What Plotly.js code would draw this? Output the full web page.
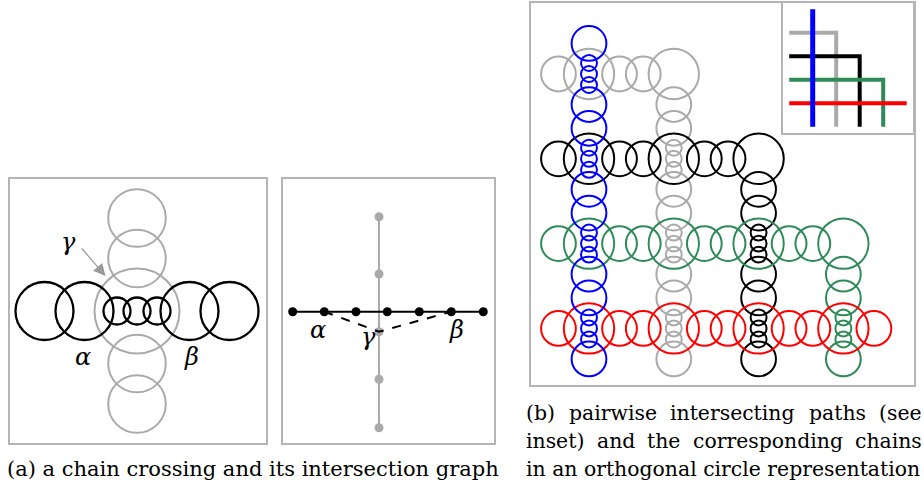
<!DOCTYPE html>
<html><head><meta charset="utf-8">
<script src="https://cdn.plot.ly/plotly-3.0.1.min.js"></script>
<style>html,body{margin:0;padding:0;background:#fff}</style>
</head><body><div id="chart" style="width:924px;height:489px"></div>
<script>
// ---------- Panel (a), left: chain crossing (units ~ px from crossing centre, y up)
const chainBlackX = [-92.5, -52.5, -20, 0, 20, 52.5, 92.5];
const chainBlackR = [29, 29, 13.5, 13.5, 13.5, 29, 29];
const chainGrayY  = [93, 52.5, 0, -52.5, -93];
const chainGrayR  = [28.8, 28.8, 42.5, 28.8, 28.8];

// ---------- Panel (a), right: intersection graph
const graphBlackX = [-86.3, -54.7, -23, 8.3, 40.3, 72.3, 104.3];
const graphBlackY = [0, 0, 0, 0, 0, 0, 0];
const graphGrayX  = [0, 0, 0, 0, 0];
const graphGrayY  = [95, 37.7, -20, -67.6, -116];
const dashX = [-54.7, 0, 72.3];
const dashY = [0, -20, 0];

// ---------- Panel (b): orthogonal circle representation (grid units, y down)
const blueX = [0,0,0,0,0,0,0,0,0,0,0,0,0,0,0,0,0,0,0,0];
const blueY = [-0.36,-0.13,0,0.13,0.36,0.64,0.87,1,1.13,1.36,1.64,1.87,2,2.13,2.36,2.64,2.87,3,3.13,3.36];
const blueR = [0.205,0.094,0.094,0.094,0.205,0.205,0.094,0.094,0.094,0.205,0.205,0.094,0.094,0.094,0.205,0.205,0.094,0.094,0.094,0.205];

const grayX = [-0.36,0,0.36,0.64,1, 1,1, 1,1,1, 1,1, 1,1,1, 1,1, 1,1,1, 1];
const grayY = [0,0,0,0,0, 0.36,0.64, 0.87,1,1.13, 1.36,1.64, 1.87,2,2.13, 2.36,2.64, 2.87,3,3.13, 3.36];
const grayR = [0.205,0.297,0.205,0.205,0.297, 0.205,0.205, 0.094,0.094,0.094, 0.205,0.205, 0.094,0.094,0.094, 0.205,0.205, 0.094,0.094,0.094, 0.205];

const blackX = [-0.36,0,0.36,0.64,1,1.36,1.64,2, 2,2, 2,2,2, 2,2, 2,2,2, 2];
const blackY = [1,1,1,1,1,1,1,1, 1.36,1.64, 1.87,2,2.13, 2.36,2.64, 2.87,3,3.13, 3.36];
const blackR = [0.205,0.297,0.205,0.205,0.297,0.205,0.205,0.297, 0.205,0.205, 0.094,0.094,0.094, 0.205,0.205, 0.094,0.094,0.094, 0.205];

const greenX = [-0.36,0,0.36,0.64,1,1.36,1.64,2,2.36,2.64,3, 3,3, 3,3,3, 3];
const greenY = [2,2,2,2,2,2,2,2,2,2,2, 2.36,2.64, 2.87,3,3.13, 3.36];
const greenR = [0.205,0.297,0.205,0.205,0.297,0.205,0.205,0.297,0.205,0.205,0.297, 0.205,0.205, 0.094,0.094,0.094, 0.205];

const redX = [-0.36,0,0.36,0.64,1,1.36,1.64,2,2.36,2.64,3,3.36];
const redY = [3,3,3,3,3,3,3,3,3,3,3,3];
const redR = [0.205,0.297,0.205,0.205,0.297,0.205,0.205,0.297,0.205,0.205,0.297,0.205];

// ---------- Inset: pairwise intersecting paths
const insetBlueX  = [0, 0],      insetBlueY  = [-1, 4];
const insetGrayX  = [-1, 1, 1],  insetGrayY  = [0, 0, 4];
const insetBlackX = [-1, 2, 2],  insetBlackY = [1, 1, 4];
const insetGreenX = [-1, 3, 3],  insetGreenY = [2, 2, 4];
const insetRedX   = [-1, 4],     insetRedY   = [3, 3];

// ---------- Captions
const captionA = '(a) a chain crossing and its intersection graph';
const captionB1 = ['(b)', 'pairwise', 'intersecting', 'paths', '(see'];
const captionB2 = ['inset)', 'and', 'the', 'corresponding', 'chains'];
const captionB3 = 'in an orthogonal circle representation';

// ---------- colours
const C = {blue:'#0000ff', gray:'#aaaaaa', black:'#000000', green:'#2e8b57', red:'#ff0000', box:'#b4b4b4'};

const W = 924, H = 489;
const px = v => v / W, py = v => 1 - v / H;

function circles(xs, ys, rs, color, width, xref, yref) {
  return xs.map((x, i) => ({
    type:'circle', xref:xref, yref:yref, layer:'above',
    x0: x - rs[i], x1: x + rs[i], y0: ys[i] - rs[i], y1: ys[i] + rs[i],
    line:{color:color, width:width}, fillcolor:'rgba(0,0,0,0)'
  }));
}

const shapes = [].concat(
  circles(chainGrayY.map(() => 0), chainGrayY, chainGrayR, C.gray, 2, 'x', 'y'),
  circles(chainBlackX, chainBlackX.map(() => 0), chainBlackR, C.black, 2.3, 'x', 'y'),
  circles(grayX, grayY, grayR, C.gray, 2, 'x3', 'y3'),
  circles(blackX, blackY, blackR, C.black, 2, 'x3', 'y3'),
  circles(greenX, greenY, greenR, C.green, 2, 'x3', 'y3'),
  circles(redX, redY, redR, C.red, 2, 'x3', 'y3'),
  circles(blueX, blueY, blueR, C.blue, 2, 'x3', 'y3')
);

const traces = [
  {x:graphGrayX, y:graphGrayY, xaxis:'x2', yaxis:'y2', mode:'lines+markers', type:'scatter',
   line:{color:C.gray, width:2}, marker:{color:C.gray, size:9}, hoverinfo:'skip'},
  {x:graphBlackX, y:graphBlackY, xaxis:'x2', yaxis:'y2', mode:'lines+markers', type:'scatter',
   line:{color:C.black, width:2}, marker:{color:C.black, size:9}, hoverinfo:'skip'},
  {x:dashX, y:dashY, xaxis:'x2', yaxis:'y2', mode:'lines', type:'scatter',
   line:{color:C.black, width:2, dash:'dash'}, hoverinfo:'skip'},
  {x:insetGrayX, y:insetGrayY, xaxis:'x4', yaxis:'y4', mode:'lines', type:'scatter', line:{color:C.gray, width:4}},
  {x:insetBlackX, y:insetBlackY, xaxis:'x4', yaxis:'y4', mode:'lines', type:'scatter', line:{color:C.black, width:4}},
  {x:insetGreenX, y:insetGreenY, xaxis:'x4', yaxis:'y4', mode:'lines', type:'scatter', line:{color:C.green, width:4}},
  {x:insetRedX, y:insetRedY, xaxis:'x4', yaxis:'y4', mode:'lines', type:'scatter', line:{color:C.red, width:4}},
  {x:insetBlueX, y:insetBlueY, xaxis:'x4', yaxis:'y4', mode:'lines', type:'scatter', line:{color:C.blue, width:5}}
];

function ax(domain, range, anchor) {
  return {domain:domain, range:range, anchor:anchor, showgrid:false, zeroline:false,
    showticklabels:false, ticks:'', showline:true, mirror:true, linecolor:C.box, linewidth:2,
    fixedrange:true};
}

const serif = 'DejaVu Serif';
const capSize = 20.4;
const lab = (text, x, y, xr, yr) => ({text:'<i>'+text+'</i>', x:x, y:y, xref:xr, yref:yr,
  showarrow:false, font:{family:serif, size:24, color:'#000'}, xanchor:'center', yanchor:'middle'});
const cap = (text, x, y, anchor, size) => ({text:text, x:px(x), y:py(y), xref:'paper', yref:'paper',
  showarrow:false, font:{family:serif, size:size || capSize, color:'#000'}, xanchor:anchor, yanchor:'middle'});

// justify a caption line between left and right pixel edges (measured with canvas)
const ctx = document.createElement('canvas').getContext('2d');
ctx.font = capSize + 'px "DejaVu Serif"';
function justified(words, left, right, y) {
  const widths = words.map(w => ctx.measureText(w).width);
  const total = widths.reduce((a, b) => a + b, 0);
  const gap = (right - left - total) / (words.length - 1);
  let pos = left;
  return words.map((w, i) => {
    const a = cap(w, pos, y, 'left');
    pos += widths[i] + gap;
    return a;
  });
}

const annotations = [
  lab('α', -53.7, -45.7, 'x', 'y'),
  lab('β', 54.7, -45.7, 'x', 'y'),
  lab('γ', -68.7, 69.3, 'x', 'y'),
  {text:'', x:-31.5, y:35, xref:'x', yref:'y', ax:-25, ay:-29, showarrow:true,
   arrowcolor:'#999999', arrowwidth:1.2, arrowhead:2, arrowsize:2},
  lab('α', -60.7, -18.3, 'x2', 'y2'),
  lab('γ', -10.7, -25, 'x2', 'y2'),
  lab('β', 77.7, -18.3, 'x2', 'y2'),
  cap(captionA, 5, 469, 'left', 21),
  cap(captionB3, 524, 469, 'left')
].concat(justified(captionB1, 524, 920, 413), justified(captionB2, 524, 920, 441));

const layout = {
  width:W, height:H, margin:{l:0, r:0, t:0, b:0}, showlegend:false,
  paper_bgcolor:'#fff', plot_bgcolor:'rgba(0,0,0,0)',
  xaxis:  ax([px(9.5), px(265.5)], [-127.5, 128.5], 'y'),
  yaxis:  ax([py(443), py(179)], [-132, 132], 'x'),
  xaxis2: ax([px(283), px(494)], [-96, 115], 'y2'),
  yaxis2: ax([py(443), py(179)], [-131.3, 132.7], 'x2'),
  xaxis3: ax([px(531), px(914)], [-0.684, 3.833], 'y3'),
  yaxis3: ax([py(385), py(3)], [3.667, -0.837], 'x3'),
  xaxis4: ax([px(783.3), px(913.3)], [-1.251, 4.281], 'y4'),
  yaxis4: ax([py(132.7), py(3.3)], [4.255, -1.251], 'x4'),
  shapes:shapes, annotations:annotations
};

Plotly.newPlot('chart', traces, layout, {staticPlot:true, displayModeBar:false});
</script></body></html>
